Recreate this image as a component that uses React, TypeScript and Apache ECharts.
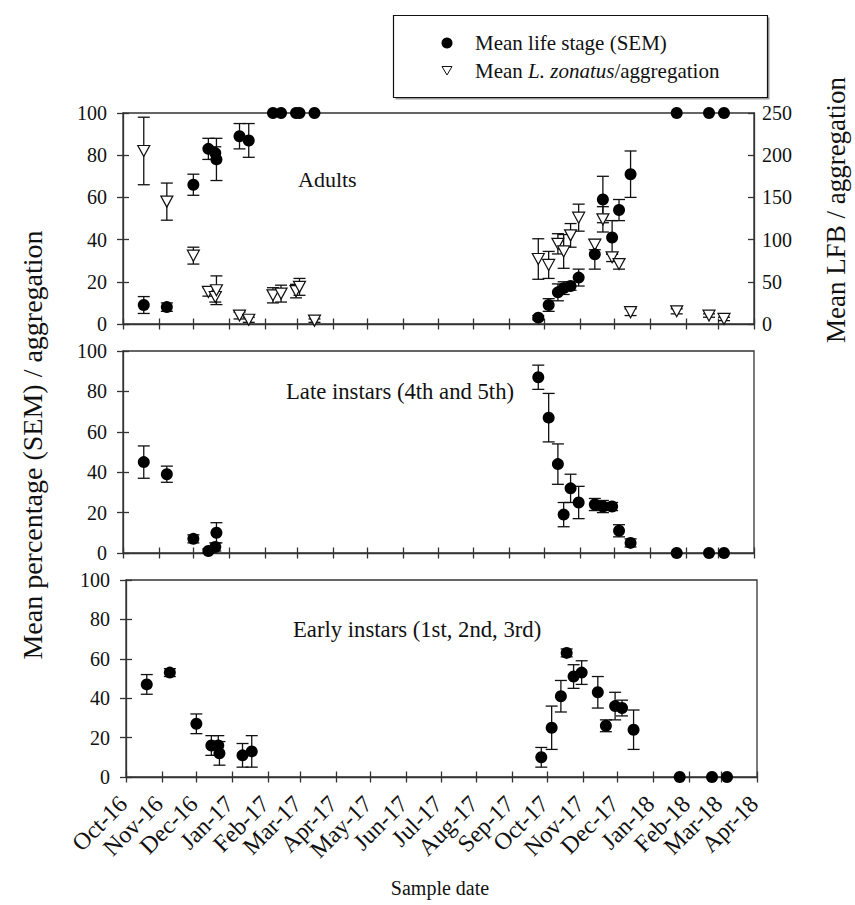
import React, { useEffect, useRef } from 'react';
import * as echarts from 'echarts';

// ---------- data ----------
const sampleDates = [
  '2016-10-19', '2016-11-08', '2016-12-01', '2016-12-14', '2016-12-20', '2016-12-21',
  '2017-01-10', '2017-01-18', '2017-02-08', '2017-02-15', '2017-02-28', '2017-03-03', '2017-03-16',
  '2017-09-26', '2017-10-05', '2017-10-13', '2017-10-18', '2017-10-24', '2017-10-31',
  '2017-11-14', '2017-11-21', '2017-11-29', '2017-12-05', '2017-12-15',
  '2018-01-24', '2018-02-21', '2018-03-06',
];

// Adults (% , SEM)
const adultMean = [9, 8, 66, 83, 81, 78, 89, 87, 100, 100, 100, 100, 100, 3, 9, 15, 17, 18, 22, 33, 59, 41, 54, 71, 100, 100, 100];
const adultSem = [4, 2, 5, 5, 3, 10, 6, 8, 0, 0, 0, 0, 0, 1, 3, 4, 3, 2, 4, 7, 11, 8, 5, 11, 0, 0, 0];

// Mean L. zonatus (LFB) per aggregation (right axis)
const lfbMean = [205, 145, 81, 38, 32, 40, 10, 5, 34, 36, 39, 44, 4, 77, 70, 95, 86, 105, 126, 94, 124, 79, 71, 14, 15, 10, 6];
const lfbSem = [40, 22, 10, 5, 6, 17, 4, 3, 9, 10, 8, 10, 2, 24, 16, 12, 20, 14, 16, 6, 15, 5, 6, 4, 3, 2, 2];

// Late instars (4th and 5th)
const lateMean = [45, 39, 7, 1, 3, 10, null, null, null, null, null, null, null, 87, 67, 44, 19, 32, 25, 24, 23, 23, 11, 5, 0, 0, 0];
const lateSem = [8, 4, 2, 1, 2, 5, null, null, null, null, null, null, null, 6, 12, 10, 6, 7, 8, 3, 3, 2, 3, 2, 0, 0, 0];

// Early instars (1st, 2nd, 3rd)
const earlyMean = [47, 53, 27, 16, 16, 12, 11, 13, null, null, null, null, null, 10, 25, 41, 63, 51, 53, 43, 26, 36, 35, 24, 0, 0, 0];
const earlySem = [5, 2, 5, 5, 5, 6, 6, 8, null, null, null, null, null, 5, 11, 8, 2, 6, 6, 8, 3, 7, 4, 10, 0, 0, 0];

const tickDates = [
  '2016-10-01', '2016-11-01', '2016-12-01', '2017-01-01', '2017-02-01', '2017-03-01', '2017-04-01',
  '2017-05-01', '2017-06-01', '2017-07-01', '2017-08-01', '2017-09-01', '2017-10-01', '2017-11-01',
  '2017-12-01', '2018-01-01', '2018-02-01', '2018-03-01', '2018-04-01',
];
const tickLabels = [
  'Oct-16', 'Nov-16', 'Dec-16', 'Jan-17', 'Feb-17', 'Mar-17', 'Apr-17', 'May-17', 'Jun-17', 'Jul-17',
  'Aug-17', 'Sep-17', 'Oct-17', 'Nov-17', 'Dec-17', 'Jan-18', 'Feb-18', 'Mar-18', 'Apr-18',
];
const pctTicks = [0, 20, 40, 60, 80, 100];
const lfbTicks = [0, 50, 100, 150, 200, 250];

// ---------- helpers ----------
const ts = (s: string) => {
  const [y, m, d] = s.split('-').map(Number);
  return Date.UTC(y, m - 1, d);
};
const rows = (mean: (number | null)[], sem: (number | null)[]) =>
  sampleDates
    .map((d, i) => [ts(d), mean[i], sem[i]])
    .filter((r) => r[1] !== null && r[1] !== undefined);

const FONT = '"Liberation Serif", "Times New Roman", serif';
const INK = '#111111';
const AXIS = '#333333';

const errRender = (params: any, api: any) => {
  const x = api.value(0);
  const m = api.value(1);
  const s = api.value(2);
  if (!s) return null;
  const top = api.coord([x, m + s]);
  const bot = api.coord([x, m - s]);
  const hw = 6;
  const st = { stroke: INK, lineWidth: 1.3 };
  return {
    type: 'group',
    children: [
      { type: 'line', shape: { x1: top[0], y1: top[1], x2: bot[0], y2: bot[1] }, style: st },
      { type: 'line', shape: { x1: top[0] - hw, y1: top[1], x2: top[0] + hw, y2: top[1] }, style: st },
      { type: 'line', shape: { x1: bot[0] - hw, y1: bot[1], x2: bot[0] + hw, y2: bot[1] }, style: st },
    ],
  };
};

export default function App() {
  const ref = useRef<HTMLDivElement>(null);

  useEffect(() => {
    if (!ref.current) return;
    const chart = echarts.init(ref.current, undefined, { renderer: 'svg' });

    const xMin = ts(tickDates[0]);
    const xMax = ts(tickDates[tickDates.length - 1]);
    const tickVals = tickDates.map(ts);
    const lineStyle = { color: AXIS, width: 1.3 };

    const mkX = (grid: number, outer: boolean, labels: boolean) => ({
      type: 'value',
      gridIndex: grid,
      position: 'bottom',
      min: xMin,
      max: xMax,
      splitLine: { show: false },
      axisLine: { show: outer, onZero: false, lineStyle },
      axisTick: { show: true, inside: !outer, length: 5.5, customValues: tickVals, lineStyle },
      axisLabel: {
        show: labels,
        customValues: tickVals,
        rotate: 45,
        margin: 20,
        padding: [0, 4, 0, 0],
        fontFamily: FONT,
        fontSize: 24,
        color: INK,
        formatter: (v: number) => {
          const i = tickVals.indexOf(v);
          return i >= 0 ? tickLabels[i] : '';
        },
      },
    });

    const mkY = (
      grid: number,
      pos: string,
      outer: boolean,
      ticks: number[],
      labels: boolean,
      tickInside: boolean,
      margin: number
    ) => ({
      type: 'value',
      gridIndex: grid,
      position: pos,
      min: ticks[0],
      max: ticks[ticks.length - 1],
      interval: ticks[1] - ticks[0],
      splitLine: { show: false },
      axisLine: { show: outer, onZero: false, lineStyle },
      axisTick: { show: true, inside: tickInside, length: 6, lineStyle },
      axisLabel: { show: labels, margin, fontFamily: FONT, fontSize: 20, color: INK },
    });

    const circle = (xi: number, yi: number, data: any[]) => ({
      type: 'scatter',
      xAxisIndex: xi,
      yAxisIndex: yi,
      data,
      symbol: 'circle',
      symbolSize: 12,
      clip: false,
      z: 4,
      itemStyle: { color: '#000000', opacity: 1 },
      emphasis: { disabled: true },
    });
    const errs = (xi: number, yi: number, data: any[]) => ({
      type: 'custom',
      xAxisIndex: xi,
      yAxisIndex: yi,
      data,
      renderItem: errRender,
      clip: false,
      z: 2,
    });

    const adults = rows(adultMean, adultSem);
    const lfb = rows(lfbMean, lfbSem);
    const late = rows(lateMean, lateSem);
    const early = rows(earlyMean, earlySem);

    const textStyle = (size: number) => ({ fontFamily: FONT, fontSize: size, fill: INK });

    chart.setOption({
      animation: false,
      backgroundColor: '#ffffff',
      grid: [
        { left: 123, top: 113, width: 631, height: 211, show: true, borderColor: AXIS, borderWidth: 1.3 },
        { left: 123, top: 351, width: 631, height: 202, show: true, borderColor: AXIS, borderWidth: 1.3 },
        { left: 126, top: 580, width: 631, height: 197, show: true, borderColor: AXIS, borderWidth: 1.3 },
      ],
      xAxis: [
        mkX(0, true, false),
        mkX(0, false, false),
        mkX(1, true, false),
        mkX(1, false, false),
        mkX(2, true, true),
        mkX(2, false, false),
      ],
      yAxis: [
        mkY(0, 'left', true, pctTicks, true, false, 16),
        mkY(0, 'left', false, pctTicks, false, true, 16),
        mkY(0, 'right', true, lfbTicks, true, true, 8),
        mkY(1, 'left', true, pctTicks, true, false, 16),
        mkY(1, 'left', false, pctTicks, false, true, 16),
        mkY(2, 'left', true, pctTicks, true, false, 16),
        mkY(2, 'left', false, pctTicks, false, true, 16),
      ],
      series: [
        errs(0, 2, lfb),
        {
          type: 'scatter',
          xAxisIndex: 0,
          yAxisIndex: 2,
          data: lfb,
          symbol: 'triangle',
          symbolRotate: 180,
          symbolSize: [12, 11],
          clip: false,
          z: 3,
          itemStyle: { color: '#ffffff', borderColor: INK, borderWidth: 1.2, opacity: 1 },
          emphasis: { disabled: true },
        },
        errs(0, 0, adults),
        circle(0, 0, adults),
        errs(2, 3, late),
        circle(2, 3, late),
        errs(4, 5, early),
        circle(4, 5, early),
      ],
      graphic: [
        {
          type: 'text',
          x: 32,
          y: 445,
          rotation: Math.PI / 2,
          style: { ...textStyle(28), text: 'Mean percentage (SEM) / aggregation', textAlign: 'center', textVerticalAlign: 'middle' },
        },
        {
          type: 'text',
          x: 836,
          y: 210,
          rotation: Math.PI / 2,
          style: { ...textStyle(27), text: 'Mean LFB / aggregation', textAlign: 'center', textVerticalAlign: 'middle' },
        },
        {
          type: 'text',
          x: 440,
          y: 888,
          style: { ...textStyle(20), text: 'Sample date', textAlign: 'center', textVerticalAlign: 'middle' },
        },
        {
          type: 'text',
          x: 298,
          y: 179,
          style: { ...textStyle(22), text: 'Adults', textAlign: 'left', textVerticalAlign: 'middle' },
        },
        {
          type: 'text',
          x: 286,
          y: 391,
          style: { ...textStyle(22.7), text: 'Late instars (4th and 5th)', textAlign: 'left', textVerticalAlign: 'middle' },
        },
        {
          type: 'text',
          x: 293,
          y: 629,
          style: { ...textStyle(22.7), text: 'Early instars (1st, 2nd, 3rd)', textAlign: 'left', textVerticalAlign: 'middle' },
        },
        // legend
        {
          type: 'rect',
          shape: { x: 395.5, y: 17.5, width: 374, height: 82 },
          style: { fill: '#9a9a9a' },
        },
        {
          type: 'rect',
          shape: { x: 393.5, y: 15.5, width: 374, height: 82 },
          style: { fill: '#ffffff', stroke: INK, lineWidth: 1.2 },
        },
        {
          type: 'circle',
          shape: { cx: 447, cy: 43, r: 5.5 },
          style: { fill: '#000000' },
        },
        {
          type: 'polygon',
          shape: { points: [[442, 66.5], [452, 66.5], [447, 75]] },
          style: { fill: '#ffffff', stroke: INK, lineWidth: 1 },
        },
        {
          type: 'text',
          x: 475,
          y: 43,
          style: { ...textStyle(21), text: 'Mean life stage (SEM)', textAlign: 'left', textVerticalAlign: 'middle' },
        },
        {
          type: 'text',
          x: 475,
          y: 71,
          style: {
            ...textStyle(21),
            text: 'Mean {i|L. zonatus}/aggregation',
            textAlign: 'left',
            textVerticalAlign: 'middle',
            rich: { i: { fontFamily: FONT, fontSize: 21, fontStyle: 'italic', fill: INK } },
          },
        },
      ],
    });

    return () => chart.dispose();
  }, []);

  return (
    <div
      ref={ref}
      style={{ position: 'fixed', left: 0, top: 0, width: 855, height: 905, background: '#ffffff' }}
    />
  );
}
